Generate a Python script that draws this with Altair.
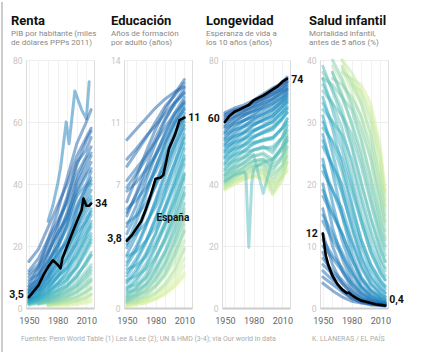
import altair as alt
import pandas as pd

YEARS = [1950, 1960, 1970, 1980, 1990, 2000, 2010, 2015]
EDU_YEARS = [1950, 1960, 1970, 1980, 1990, 2000, 2010]

# colour index per country: 1 = blue (rich), 0 = yellow (poor)
COLOR_INDEX = [0.97, 0.94, 0.91, 0.88, 0.85, 0.82, 0.79, 0.76, 0.73, 0.70,
               0.67, 0.64, 0.61, 0.58, 0.55, 0.52, 0.49, 0.46, 0.43, 0.40,
               0.37, 0.34, 0.31, 0.28, 0.25, 0.21, 0.17, 0.12, 0.07, 0.02]
COLOR_INDEX_B = [0.9, 0.84, 0.78, 0.72, 0.66, 0.6, 0.54, 0.48, 0.42, 0.36,
                 0.3, 0.24, 0.18, 0.1, 0.04]

RENTA = [
    [15, 19, 26, 33, 40, 49, 55, 58], [8, 13, 22, 31, 42, 53, 60, 64],
    [12, 16, 22, 28, 34, 43, 49, 52], [6, 10, 17, 26, 35, 46, 54, 57],
    [10, 13, 18, 24, 30, 38, 44, 47], [5, 8, 14, 22, 31, 41, 48, 50],
    [9, 11, 15, 20, 26, 33, 39, 42], [4, 7, 12, 19, 27, 37, 43, 45],
    [7, 9, 13, 17, 22, 29, 35, 38], [3.5, 6, 10, 16, 23, 32, 39, 41],
    [6, 7.5, 10, 14, 19, 25, 31, 34], [3, 5, 8, 13, 19, 27, 34, 36],
    [5, 6, 8.5, 12, 16, 21, 27, 30], [2.5, 4, 6.5, 10, 15, 22, 29, 31],
    [4, 5, 7, 10, 13, 17, 23, 26], [2, 3, 5, 8, 12, 18, 24, 27],
    [3, 3.5, 5, 7.5, 10, 13, 19, 22], [1.5, 2.5, 4, 6, 9, 14, 20, 23],
    [2.5, 3, 4, 5.5, 7.5, 10, 15, 18], [1.2, 2, 3, 4.5, 7, 10, 15, 17],
    [2, 2.2, 3, 4, 5.5, 7.5, 11, 13], [1, 1.5, 2.2, 3.5, 5, 7, 10, 12],
    [1.5, 1.6, 2.2, 3, 4, 5.5, 8, 9.5], [None, 1.2, 1.8, 2.5, 3.5, 5, 7, 8.5],
    [None, 1.4, 1.8, 2.2, 2.8, 3.8, 5.5, 6.5], [None, None, 1.2, 1.8, 2.4, 3.2, 4.8, 6],
    [None, None, 1.4, 1.6, 1.9, 2.4, 3.5, 4.5], [None, None, 0.8, 1.2, 1.6, 2.2, 3, 4],
    [None, None, 1, 1.1, 1.2, 1.5, 2.2, 2.8], [None, None, 0.5, 0.7, 0.9, 1.1, 1.5, 2],
]
RENTA_B = [
    [11, 14, 20, 27, 36, 47, 51, 55], [7, 11, 18, 24, 29, 40, 46, 49],
    [5.5, 9, 15, 20, 28, 36, 40, 44], [4.5, 8, 11, 18, 21, 31, 37, 40],
    [3.5, 6, 9.5, 15, 20, 26, 33, 35], [3, 4.5, 8, 11, 17, 24, 28, 32],
    [2.5, 4, 6, 10, 13, 20, 25, 28], [2, 3.5, 5.5, 8, 11, 16, 22, 24],
    [1.8, 3, 4.5, 7, 9, 13, 18, 21], [1.5, 2.5, 3.5, 5.5, 7, 11, 14, 17],
    [None, 2, 3, 4.5, 6, 8.5, 12, 14], [None, 1.5, 2.5, 3.5, 4.5, 6.5, 9, 11],
    [None, None, 2, 2.8, 3.5, 5, 7.5, 9], [None, None, 1.5, 2, 2.6, 3.5, 5.5, 7],
    [None, None, 1, 1.3, 1.6, 2.4, 3.5, 4.5],
]
RENTA_TOP_YEARS = [1970, 1975, 1980, 1983, 1989, 1992, 1998, 2005, 2010, 2013]
RENTA_TOP = [28, 33, 40, 45, 60, 53, 70, 64, 61, 73]
RENTA_TOP_COLOR = 0.75

EDUCACION = [
    [9.5, 10.1, 10.7, 11.3, 11.8, 12.2, 12.5], [6.0, 7.4, 8.8, 10.1, 11.2, 12.1, 12.9],
    [8.4, 9.0, 9.7, 10.3, 11.0, 11.6, 12.1], [5.2, 6.5, 7.9, 9.3, 10.6, 11.6, 12.4],
    [7.2, 7.9, 8.6, 9.4, 10.2, 11.0, 11.6], [4.6, 5.8, 7.2, 8.6, 9.9, 11.0, 11.9],
    [6.6, 7.1, 7.8, 8.6, 9.5, 10.5, 11.2], [3.6, 4.9, 6.4, 7.9, 9.3, 10.5, 11.5],
    [5.6, 6.1, 6.8, 7.7, 8.8, 9.9, 10.8], [3.0, 4.1, 5.5, 7.0, 8.5, 9.8, 11.0],
    [4.8, 5.2, 5.9, 6.9, 8.0, 9.2, 10.3], [2.4, 3.3, 4.6, 6.1, 7.7, 9.2, 10.5],
    [3.9, 4.2, 4.8, 5.7, 6.9, 8.2, 9.6], [1.8, 2.6, 3.7, 5.1, 6.6, 8.2, 9.8],
    [2.9, 3.2, 3.8, 4.6, 5.7, 7.0, 8.6], [1.4, 2.0, 3.0, 4.2, 5.7, 7.3, 9.0],
    [2.2, 2.4, 2.9, 3.7, 4.8, 6.1, 7.6], [1.0, 1.5, 2.3, 3.4, 4.8, 6.4, 8.1],
    [1.6, 1.8, 2.2, 2.9, 3.9, 5.2, 6.8], [0.7, 1.1, 1.7, 2.7, 4.0, 5.6, 7.3],
    [1.2, 1.3, 1.7, 2.3, 3.2, 4.4, 5.9], [0.5, 0.8, 1.3, 2.1, 3.2, 4.7, 6.4],
    [0.9, 1.0, 1.3, 1.8, 2.6, 3.7, 5.0], [0.4, 0.6, 1.0, 1.6, 2.5, 3.8, 5.4],
    [0.6, 0.7, 0.9, 1.3, 2.0, 3.0, 4.3], [0.3, 0.4, 0.7, 1.2, 1.9, 3.0, 4.4],
    [0.4, 0.5, 0.6, 0.9, 1.4, 2.2, 3.4], [0.2, 0.3, 0.5, 0.8, 1.3, 2.1, 3.3],
    [0.3, 0.3, 0.4, 0.6, 1.0, 1.5, 2.4], [0.1, 0.2, 0.3, 0.5, 0.8, 1.2, 1.8],
]
EDUCACION_B = [
    [8.0, 8.8, 9.6, 10.5, 11.4, 12.0, 12.7], [6.8, 7.6, 8.4, 9.6, 10.7, 11.5, 12.2],
    [5.4, 6.4, 7.5, 8.7, 9.8, 10.8, 11.7], [4.2, 5.3, 6.6, 8.0, 9.2, 10.3, 11.3],
    [3.4, 4.4, 5.6, 7.0, 8.3, 9.6, 10.7], [2.6, 3.5, 4.7, 6.0, 7.4, 8.8, 10.1],
    [2.0, 2.8, 3.8, 5.0, 6.4, 7.8, 9.3], [1.5, 2.2, 3.1, 4.2, 5.5, 6.9, 8.4],
    [1.1, 1.7, 2.5, 3.5, 4.6, 5.9, 7.5], [0.8, 1.2, 1.9, 2.8, 3.8, 5.0, 6.5],
    [0.6, 0.9, 1.4, 2.1, 3.0, 4.1, 5.6], [0.4, 0.7, 1.1, 1.6, 2.3, 3.3, 4.7],
    [0.3, 0.5, 0.8, 1.2, 1.8, 2.6, 3.8], [0.2, 0.3, 0.5, 0.8, 1.2, 1.8, 2.8],
    [0.1, 0.2, 0.3, 0.5, 0.8, 1.3, 2.0],
]

LONGEVIDAD = [
    [63, 64.5, 65.5, 67, 69, 71, 72.5, 73.5], [61, 63, 64.5, 66.5, 68.5, 70.5, 72.8, 74.5],
    [62.5, 64, 64.8, 66, 67.5, 69, 70.5, 71.5], [59, 61.5, 63.5, 65.5, 67.8, 70, 72, 73],
    [61.5, 63, 63.8, 64.8, 66, 67.5, 69.5, 70.5], [57, 60, 62, 64, 66.5, 68.5, 71, 72],
    [60, 61.5, 62.5, 63.5, 64.5, 66, 68, 69.5], [55, 58, 60.5, 62.5, 65, 67, 69.5, 70.5],
    [58, 59.5, 60.5, 61.5, 62.5, 64, 66.5, 68], [53, 56, 58.5, 61, 63, 65, 67.5, 69],
    [56, 57.5, 58.5, 59.5, 60.5, 62, 65, 66.5], [51, 54, 56.5, 59, 61, 63, 66, 67.5],
    [54, 55.5, 56.5, 57.5, 58.5, 60, 63, 64.5], [49, 52, 54.5, 57, 59, 61, 64, 66],
    [52, 53.5, 54.5, 55.5, 56.5, 58, 61, 63], [47, 50, 52.5, 55, 57, 58.5, 61.5, 64],
    [50, 51.5, 52.5, 53.5, 54, 55, 58, 60], [45, 48, 50.5, 53, 54.5, 55, 58, 61],
    [48, 49.5, 50.5, 51, 51.5, 52, 55, 57.5], [43, 46, 48.5, 51, 52, 51, 55, 59],
    [46, 47.5, 48.5, 49.5, 37, 48, 52, 55], [42, 44.5, 47, 49, 50, 48, 52, 56],
    [44, 45.5, 46.5, 47.5, 48, 46, 49, 52], [40.5, 43, 45.5, 47.5, 48, 45, 48, 54],
    [42.5, 44, 45, 46, 46.5, 43, 46, 49], [39.5, 42, 44, 46, 46, 41, 45, 51],
    [41, 42.5, 43.5, 44.5, 44.5, 38, 43, 47], [38.5, 41, 43, 44.5, 44, 37, 42, 48],
    [40, 41, 42, 43, 43, 40, 42, 45], [38, 40, 41.5, 42.5, 42, 39, 43, 44],
]
LONGEVIDAD_B = [
    [62, 63.5, 64.5, 66.5, 68, 70, 72, 73], [60.5, 62, 63, 65, 67, 69, 71, 72.5],
    [58.5, 60.5, 62, 63.5, 65.5, 67.5, 70, 71], [56.5, 59, 60.5, 62, 64, 66, 68.5, 70],
    [54.5, 57, 59, 60.5, 62, 64, 67, 68.5], [52.5, 55, 57, 59, 60.5, 62, 65, 67],
    [50.5, 53, 55, 57, 58.5, 60, 63, 65], [48.5, 51, 53, 55, 56.5, 57.5, 61, 63],
    [46.5, 49, 51, 53, 54, 54.5, 58, 61], [44.5, 47, 49, 51, 52, 50, 55, 59],
    [43, 45, 47, 49, 49.5, 47, 52, 57], [41.5, 43.5, 45.5, 47, 47.5, 44, 49, 55],
    [40, 42, 44, 45.5, 45, 42, 46, 52], [39, 41, 42.5, 44, 43.5, 40, 44, 50],
    [38.5, 40, 41.5, 42.5, 41.5, 36.5, 41, 47],
]
LONG_DIP_YEARS = [1950, 1960, 1970, 1972, 1975, 1978, 1980, 1990, 2000, 2010, 2015]
LONG_DIP = [41, 43, 44, 43, 19.5, 40, 45, 47, 48, 51, 54]
LONG_DIP_COLOR = 0.4

MORTALIDAD = [
    [4, 2.8, 1.8, 1.1, 0.8, 0.5, 0.4, 0.3], [9, 5, 2.8, 1.5, 0.9, 0.6, 0.45, 0.4],
    [5, 3.8, 2.6, 1.6, 1.0, 0.7, 0.5, 0.4], [12, 7, 4, 2.2, 1.2, 0.8, 0.55, 0.45],
    [7, 5.5, 4, 2.5, 1.5, 0.9, 0.6, 0.5], [16, 10, 6, 3.2, 1.8, 1.1, 0.7, 0.6],
    [10, 8, 6, 3.8, 2.2, 1.3, 0.8, 0.7], [20, 13, 8, 4.5, 2.6, 1.5, 0.9, 0.7],
    [14, 11, 8.5, 5.5, 3.2, 1.8, 1.1, 0.9], [24, 17, 11, 6.5, 3.6, 2.1, 1.3, 1],
    [18, 15, 12, 8, 4.5, 2.6, 1.6, 1.2], [28, 22, 15, 9, 5, 3, 1.9, 1.5],
    [22, 19, 16, 11, 7, 4, 2.4, 1.9], [31, 25, 19, 13, 8, 4.8, 3, 2.4],
    [26, 23, 20, 15, 10, 6.2, 3.8, 3], [34, 29, 23, 17, 11, 7, 4.5, 3.6],
    [29, 27, 24, 19, 14, 9, 5.6, 4.5], [37, 32, 27, 21, 15, 10, 6.5, 5.2],
    [32, 30, 28, 24, 18, 12.5, 8, 6.5], [39, 35, 31, 26, 20, 14.5, 9.5, 7.5],
    [35, 33, 31, 28, 23, 17, 11, 8.5], [None, 38, 34, 30, 25, 19, 12.5, 10],
    [37, 36, 34, 32, 27, 21, 14, 11], [None, 40, 37, 33, 29, 24, 16, 12.5],
    [None, 37, 36, 34, 31, 26, 18, 14], [None, None, 39, 36, 33, 28, 20, 15],
    [None, None, 38, 37, 34, 30, 22, 16.5], [None, None, 40, 38, 35, 31, 24, 17.5],
    [None, None, None, 37, 36, 33, 26, 18.5], [None, None, None, 36, 35, 32, 25, 19],
]
MORTALIDAD_B = [
    [6, 4.5, 3, 1.8, 1.1, 0.7, 0.5, 0.4], [8, 6, 4.5, 2.8, 1.6, 1, 0.7, 0.6],
    [11, 8.5, 6.5, 4, 2.4, 1.4, 0.9, 0.7], [15, 12, 9, 5.8, 3.4, 2, 1.2, 0.9],
    [19, 15.5, 12, 8, 4.8, 2.8, 1.7, 1.3], [23, 19, 15, 10.5, 6.5, 3.8, 2.3, 1.8],
    [27, 23, 18.5, 13.5, 8.5, 5.2, 3.2, 2.5], [30, 26.5, 22, 16.5, 11, 7, 4.3, 3.4],
    [33, 30, 25.5, 20, 14, 9, 5.8, 4.6], [36, 33, 29, 23, 17, 11.5, 7.5, 6],
    [38, 35.5, 32, 26.5, 20.5, 14.5, 9.5, 7.5], [None, 38, 34.5, 29.5, 24, 17.5, 12, 9.5],
    [None, 39, 36.5, 32.5, 27.5, 21, 14.5, 11.5], [None, None, 38.5, 35, 30.5, 24.5, 17.5, 13.5],
    [None, None, 40, 36.5, 33, 28, 20.5, 16],
]

SPAIN_RENTA_YEARS = [1950, 1955, 1960, 1965, 1970, 1975, 1980, 1983, 1985, 1990, 1995, 2000, 2005, 2007, 2010, 2013, 2015]
SPAIN_RENTA = [3.5, 5.4, 7.3, 10.5, 13.2, 15.4, 14, 12.8, 16, 20, 24, 27.8, 31.5, 35.3, 33, 33, 33.7]
SPAIN_EDU_YEARS = [1950, 1955, 1960, 1965, 1970, 1975, 1980, 1985, 1988, 1994, 2000, 2005, 2010]
SPAIN_EDU = [3.8, 4.1, 4.5, 4.9, 5.6, 6.4, 7.3, 7.35, 7.5, 9.0, 9.75, 10.6, 10.75]
SPAIN_LONG_YEARS = [1950, 1955, 1960, 1965, 1970, 1975, 1980, 1985, 1990, 1995, 2000, 2005, 2010, 2015]
SPAIN_LONG = [60, 62, 63.3, 64, 64.8, 65.5, 67, 67.8, 68.5, 69.5, 70.5, 71.5, 73, 74]
SPAIN_MORT_YEARS = [1950, 1953, 1956, 1960, 1965, 1970, 1975, 1977, 1980, 1985, 1990, 1995, 2000, 2005, 2010, 2015]
SPAIN_MORT = [12, 8.5, 6.8, 5.2, 3.9, 3.0, 2.4, 2.5, 2.1, 1.6, 1.2, 1.0, 0.8, 0.6, 0.5, 0.4]

PALETTE = ["#e3f49a", "#b8e3a8", "#6cc5b7", "#36aac4", "#1d8cc0", "#1f6fb3", "#1d5ca5"]
FONT = "Roboto"
FOOTER_LEFT = "Fuentes: Penn World Table (1) Lee & Lee (2); UN & HMD (3-4); vía Our world in data"
FOOTER_RIGHT = "K. LLANERAS  /  EL PAÍS"


def lines_frame(sets, years, extra=()):
    items = []
    for series, colors in sets:
        for vals, c in zip(series, colors):
            items.append((c, years, vals))
    for yrs, vals, c in extra:
        items.append((c, yrs, vals))
    items.sort(key=lambda it: it[0])
    rows = []
    for i, (c, yrs, vals) in enumerate(items):
        for yr, v in zip(yrs, vals):
            if v is not None:
                rows.append({"id": f"s{i:03d}", "year": yr, "value": v, "c": c})
    return pd.DataFrame(rows)


def text_at(txt, px, py, size, color, weight="normal", align="left"):
    return alt.Chart(pd.DataFrame({"t": [txt]})).mark_text(
        align=align, baseline="alphabetic", font=FONT, fontSize=size, color=color,
        fontWeight=weight).encode(x=alt.value(px), y=alt.value(py), text="t:N")


def panel(df, sp_years, sp_vals, title, subtitle, ydomain, yvalues, hide, left_lab, right_lab,
          dx, extra_layers=()):
    x = alt.X("year:Q", scale=alt.Scale(domain=[1947, 2018], nice=False, zero=False),
              axis=alt.Axis(values=list(range(1950, 2011, 10)), format="d",
                            labelExpr="datum.value % 30 == 0 ? datum.label : ''",
                            title=None, ticks=False, domainColor="#cccccc", domainWidth=2,
                            gridColor="#f2f2f2", labelColor="#666666", labelFontSize=9,
                            labelFont=FONT, labelPadding=8, labelOverlap=False))
    hide_expr = " || ".join(f"datum.value == {h}" for h in hide) if hide else "false"
    y = alt.Y("value:Q", scale=alt.Scale(domain=ydomain, nice=False),
              axis=alt.Axis(values=yvalues, title=None, ticks=False, domain=False,
                            gridColor="#eeeeee", labelColor="#c4c4c4", labelFontSize=8.5,
                            labelFont=FONT, labelPadding=4,
                            labelExpr=f"({hide_expr}) ? '' : replace(datum.label, '.', ',')"))
    lines = alt.Chart(df).mark_line(strokeWidth=3.0, opacity=0.5, strokeCap="round",
                                    strokeJoin="round").encode(
        x=x, y=y, detail="id:N",
        color=alt.Color("c:Q", scale=alt.Scale(domain=[0, 1], range=PALETTE), legend=None))
    sp = pd.DataFrame({"year": sp_years, "value": sp_vals})
    spain = alt.Chart(sp).mark_line(color="black", strokeWidth=2.6, strokeCap="round",
                                    strokeJoin="round").encode(x=x, y=y)
    ldf = pd.DataFrame({"year": [sp_years[0]], "value": [left_lab[0]], "t": [left_lab[1]]})
    rdf = pd.DataFrame({"year": [sp_years[-1]], "value": [right_lab[0]], "t": [right_lab[1]]})
    lt = alt.Chart(ldf).mark_text(align="right", dx=-5, font=FONT, fontSize=10.5,
                                  fontWeight="bold", color="#111").encode(x=x, y=y, text="t:N")
    rt = alt.Chart(rdf).mark_text(align="left", dx=4, font=FONT, fontSize=10.5,
                                  fontWeight="bold", color="#111").encode(x=x, y=y, text="t:N")
    titles = [text_at(title, dx, -35, 13, "#111111", "bold"),
              text_at(subtitle[0], dx, -24, 8, "#888888"),
              text_at(subtitle[1], dx, -15.5, 8, "#888888")]
    layers = [lines, spain, lt, rt] + titles + [f(x, y) for f in extra_layers]
    return alt.layer(*layers).properties(width=68, height=248)


def footer_left(x, y):
    return text_at(FOOTER_LEFT, -5, 281, 7, "#aaaaaa")


def footer_right(x, y):
    return text_at(FOOTER_RIGHT, 286, 281, 7, "#aaaaaa")


def border(x, y):
    return alt.Chart(pd.DataFrame({"a": [0]})).mark_rule(color="#cccccc", strokeWidth=2).encode(
        x=alt.value(-24), y=alt.value(-58), y2=alt.value(294))


def espana(x, y):
    return alt.Chart(pd.DataFrame({"year": [1981], "value": [5.1], "t": ["España"]})).mark_text(
        align="left", font=FONT, fontSize=10, fontWeight="bold", color="#111").encode(
        x=x, y=y, text="t:N")


p1 = panel(lines_frame([(RENTA, COLOR_INDEX), (RENTA_B, COLOR_INDEX_B)], YEARS,
                       [(RENTA_TOP_YEARS, RENTA_TOP, RENTA_TOP_COLOR)]),
           SPAIN_RENTA_YEARS, SPAIN_RENTA, "Renta",
           ["PIB por habitante (miles", "de dólares PPPs 2011)"],
           [0, 80], [0, 20, 40, 60, 80], [], (4.2, "3,5"), (33.5, "34"), -15,
           [footer_left, footer_right, border])
p2 = panel(lines_frame([(EDUCACION, COLOR_INDEX), (EDUCACION_B, COLOR_INDEX_B)], EDU_YEARS),
           SPAIN_EDU_YEARS, SPAIN_EDU, "Educación",
           ["Años de formación", "por adulto (años)"],
           [0, 14], [0, 3.5, 7, 10.5, 14], [3.5], (3.9, "3,8"), (10.7, "11"), -13, [espana])
p3 = panel(lines_frame([(LONGEVIDAD, COLOR_INDEX), (LONGEVIDAD_B, COLOR_INDEX_B)], YEARS,
                       [(LONG_DIP_YEARS, LONG_DIP, LONG_DIP_COLOR)]),
           SPAIN_LONG_YEARS, SPAIN_LONG, "Longevidad",
           ["Esperanza de vida a", "los 10 años (años)"],
           [0, 80], [0, 20, 40, 60, 80], [60], (61, "60"), (73.5, "74"), -16)
p4 = panel(lines_frame([(MORTALIDAD, COLOR_INDEX), (MORTALIDAD_B, COLOR_INDEX_B)], YEARS),
           SPAIN_MORT_YEARS, SPAIN_MORT, "Salud infantil",
           ["Mortalidad infantil,", "antes de 5 años (%)"],
           [0, 40], [0, 10, 20, 30, 40], [], (12, "12"), (1.3, "0,4"), -11)

chart = alt.hconcat(p1, p2, p3, p4, spacing=30, bounds="flush").properties(
    padding=0
).configure_view(stroke=None).configure(background="white")

chart.save("out.html", embed_options={"renderer": "svg", "actions": False})
